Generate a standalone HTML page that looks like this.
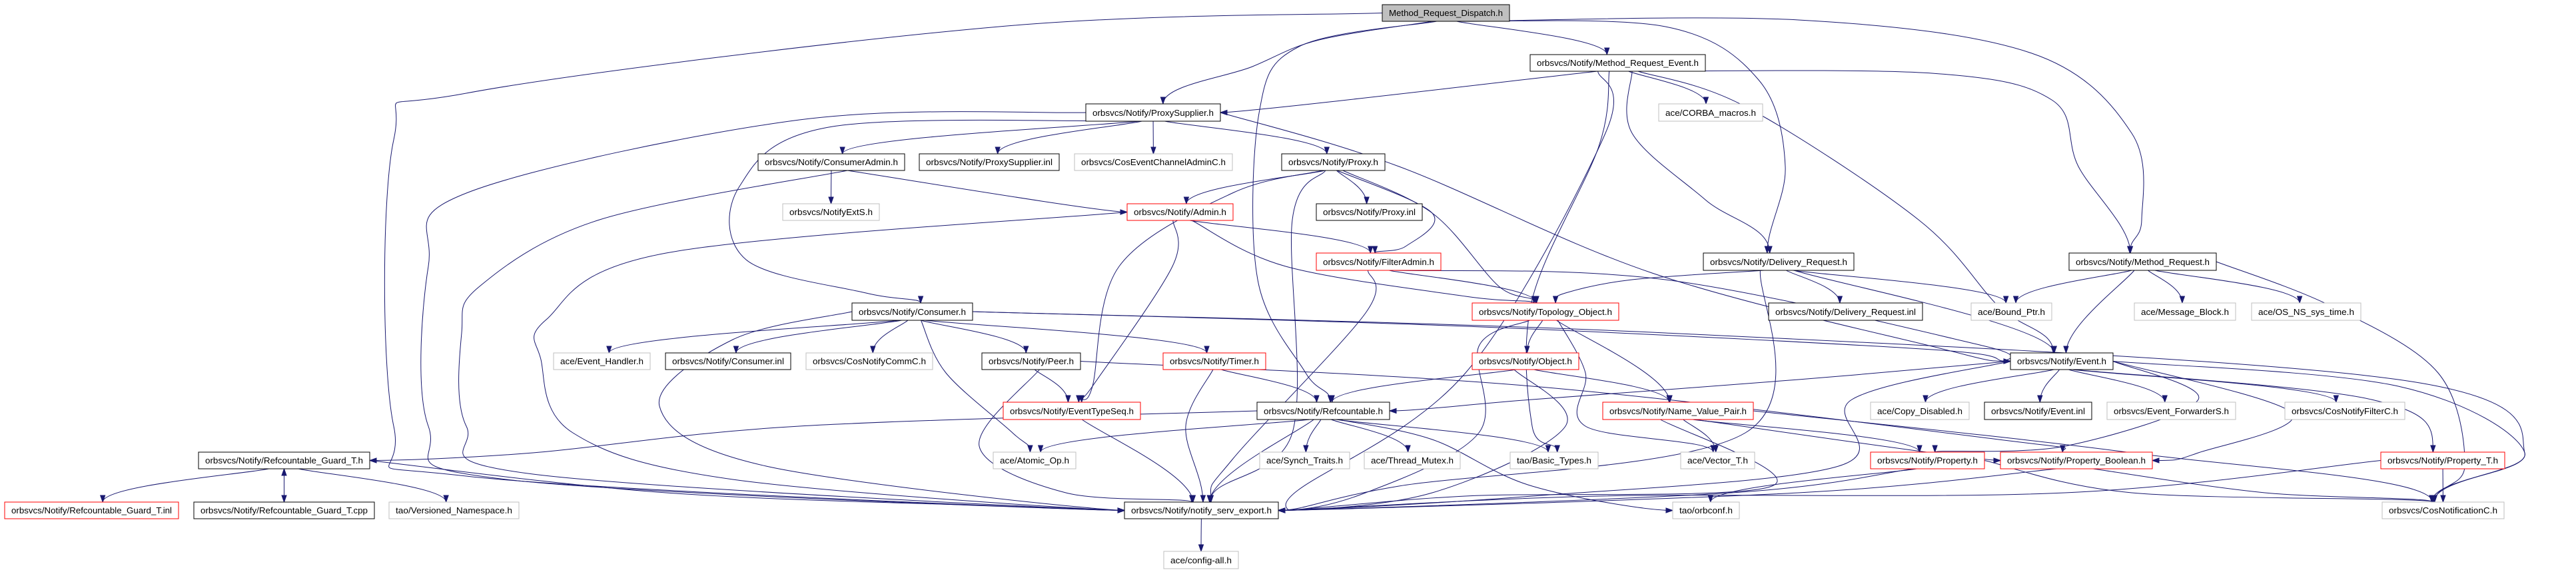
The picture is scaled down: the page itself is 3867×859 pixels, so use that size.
<!DOCTYPE html>
<html><head><meta charset="utf-8">
<style>
html,body{margin:0;padding:0;background:#fff;}
svg{display:block;}
text{font-family:"Liberation Sans",sans-serif;font-size:13px;fill:#000;}
</style></head><body>
<svg id="g" width="3867" height="859" viewBox="0 0 3867 859" xmlns="http://www.w3.org/2000/svg">
<g id="edges" fill="none" stroke="#191970" stroke-width="1"></g>
<g id="heads" fill="#191970" stroke="#191970"></g>
<g id="nodes">
<rect x="2075" y="7" width="191" height="25" fill="#bfbfbf" stroke="#000"/><text x="2170.5" y="24" text-anchor="middle">Method_Request_Dispatch.h</text>
<rect x="2297" y="82" width="263" height="25" fill="#fff" stroke="#000"/><text x="2428.5" y="99" text-anchor="middle">orbsvcs/Notify/Method_Request_Event.h</text>
<rect x="1630" y="156" width="202" height="26" fill="#fff" stroke="#000"/><text x="1731" y="174" text-anchor="middle">orbsvcs/Notify/ProxySupplier.h</text>
<rect x="2490" y="156" width="156" height="26" fill="#fff" stroke="#bfbfbf"/><text x="2568" y="174" text-anchor="middle">ace/CORBA_macros.h</text>
<rect x="1138" y="231" width="220" height="25" fill="#fff" stroke="#000"/><text x="1248" y="248" text-anchor="middle">orbsvcs/Notify/ConsumerAdmin.h</text>
<rect x="1380" y="231" width="210" height="25" fill="#fff" stroke="#000"/><text x="1485" y="248" text-anchor="middle">orbsvcs/Notify/ProxySupplier.inl</text>
<rect x="1613" y="231" width="237" height="25" fill="#fff" stroke="#bfbfbf"/><text x="1731.5" y="248" text-anchor="middle">orbsvcs/CosEventChannelAdminC.h</text>
<rect x="1924" y="231" width="155" height="25" fill="#fff" stroke="#000"/><text x="2001.5" y="248" text-anchor="middle">orbsvcs/Notify/Proxy.h</text>
<rect x="1175" y="306" width="145" height="25" fill="#fff" stroke="#bfbfbf"/><text x="1247.5" y="323" text-anchor="middle">orbsvcs/NotifyExtS.h</text>
<rect x="1692" y="306" width="159" height="25" fill="#fff" stroke="#f00"/><text x="1771.5" y="323" text-anchor="middle">orbsvcs/Notify/Admin.h</text>
<rect x="1976" y="306" width="159" height="25" fill="#fff" stroke="#000"/><text x="2055.5" y="323" text-anchor="middle">orbsvcs/Notify/Proxy.inl</text>
<rect x="1976" y="380" width="187" height="26" fill="#fff" stroke="#f00"/><text x="2069.5" y="398" text-anchor="middle">orbsvcs/Notify/FilterAdmin.h</text>
<rect x="2557" y="380" width="226" height="26" fill="#fff" stroke="#000"/><text x="2670" y="398" text-anchor="middle">orbsvcs/Notify/Delivery_Request.h</text>
<rect x="3106" y="380" width="221" height="26" fill="#fff" stroke="#000"/><text x="3216.5" y="398" text-anchor="middle">orbsvcs/Notify/Method_Request.h</text>
<rect x="1279" y="455" width="181" height="26" fill="#fff" stroke="#000"/><text x="1369.5" y="473" text-anchor="middle">orbsvcs/Notify/Consumer.h</text>
<rect x="2210" y="455" width="220" height="26" fill="#fff" stroke="#f00"/><text x="2320" y="473" text-anchor="middle">orbsvcs/Notify/Topology_Object.h</text>
<rect x="2655" y="455" width="231" height="26" fill="#fff" stroke="#000"/><text x="2770.5" y="473" text-anchor="middle">orbsvcs/Notify/Delivery_Request.inl</text>
<rect x="2959" y="455" width="121" height="26" fill="#fff" stroke="#bfbfbf"/><text x="3019.5" y="473" text-anchor="middle">ace/Bound_Ptr.h</text>
<rect x="3204" y="455" width="152" height="26" fill="#fff" stroke="#bfbfbf"/><text x="3280" y="473" text-anchor="middle">ace/Message_Block.h</text>
<rect x="3380" y="455" width="164" height="26" fill="#fff" stroke="#bfbfbf"/><text x="3462" y="473" text-anchor="middle">ace/OS_NS_sys_time.h</text>
<rect x="831" y="530" width="145" height="25" fill="#fff" stroke="#bfbfbf"/><text x="903.5" y="547" text-anchor="middle">ace/Event_Handler.h</text>
<rect x="999" y="530" width="188" height="25" fill="#fff" stroke="#000"/><text x="1093" y="547" text-anchor="middle">orbsvcs/Notify/Consumer.inl</text>
<rect x="1210" y="530" width="190" height="25" fill="#fff" stroke="#bfbfbf"/><text x="1305" y="547" text-anchor="middle">orbsvcs/CosNotifyCommC.h</text>
<rect x="1474" y="530" width="148" height="25" fill="#fff" stroke="#000"/><text x="1548" y="547" text-anchor="middle">orbsvcs/Notify/Peer.h</text>
<rect x="1746" y="530" width="154" height="25" fill="#fff" stroke="#f00"/><text x="1823" y="547" text-anchor="middle">orbsvcs/Notify/Timer.h</text>
<rect x="2210" y="530" width="160" height="25" fill="#fff" stroke="#f00"/><text x="2290" y="547" text-anchor="middle">orbsvcs/Notify/Object.h</text>
<rect x="3018" y="530" width="154" height="25" fill="#fff" stroke="#000"/><text x="3095" y="547" text-anchor="middle">orbsvcs/Notify/Event.h</text>
<rect x="1506" y="604" width="206" height="26" fill="#fff" stroke="#f00"/><text x="1609" y="622" text-anchor="middle">orbsvcs/Notify/EventTypeSeq.h</text>
<rect x="1887" y="604" width="199" height="26" fill="#fff" stroke="#000"/><text x="1986.5" y="622" text-anchor="middle">orbsvcs/Notify/Refcountable.h</text>
<rect x="2406" y="604" width="226" height="26" fill="#fff" stroke="#f00"/><text x="2519" y="622" text-anchor="middle">orbsvcs/Notify/Name_Value_Pair.h</text>
<rect x="2808" y="604" width="148" height="26" fill="#fff" stroke="#bfbfbf"/><text x="2882" y="622" text-anchor="middle">ace/Copy_Disabled.h</text>
<rect x="2979" y="604" width="161" height="26" fill="#fff" stroke="#000"/><text x="3059.5" y="622" text-anchor="middle">orbsvcs/Notify/Event.inl</text>
<rect x="3163" y="604" width="193" height="26" fill="#fff" stroke="#bfbfbf"/><text x="3259.5" y="622" text-anchor="middle">orbsvcs/Event_ForwarderS.h</text>
<rect x="3430" y="604" width="180" height="26" fill="#fff" stroke="#bfbfbf"/><text x="3520" y="622" text-anchor="middle">orbsvcs/CosNotifyFilterC.h</text>
<rect x="298" y="679" width="257" height="25" fill="#fff" stroke="#000"/><text x="426.5" y="696" text-anchor="middle">orbsvcs/Notify/Refcountable_Guard_T.h</text>
<rect x="1491" y="679" width="124" height="25" fill="#fff" stroke="#bfbfbf"/><text x="1553" y="696" text-anchor="middle">ace/Atomic_Op.h</text>
<rect x="1891" y="679" width="135" height="25" fill="#fff" stroke="#bfbfbf"/><text x="1958.5" y="696" text-anchor="middle">ace/Synch_Traits.h</text>
<rect x="2048" y="679" width="144" height="25" fill="#fff" stroke="#bfbfbf"/><text x="2120" y="696" text-anchor="middle">ace/Thread_Mutex.h</text>
<rect x="2267" y="679" width="132" height="25" fill="#fff" stroke="#bfbfbf"/><text x="2333" y="696" text-anchor="middle">tao/Basic_Types.h</text>
<rect x="2523" y="679" width="111" height="25" fill="#fff" stroke="#bfbfbf"/><text x="2578.5" y="696" text-anchor="middle">ace/Vector_T.h</text>
<rect x="2808" y="679" width="171" height="25" fill="#fff" stroke="#f00"/><text x="2893.5" y="696" text-anchor="middle">orbsvcs/Notify/Property.h</text>
<rect x="3003" y="679" width="228" height="25" fill="#fff" stroke="#f00"/><text x="3117" y="696" text-anchor="middle">orbsvcs/Notify/Property_Boolean.h</text>
<rect x="3574" y="679" width="186" height="25" fill="#fff" stroke="#f00"/><text x="3667" y="696" text-anchor="middle">orbsvcs/Notify/Property_T.h</text>
<rect x="7" y="754" width="261" height="25" fill="#fff" stroke="#f00"/><text x="137.5" y="771" text-anchor="middle">orbsvcs/Notify/Refcountable_Guard_T.inl</text>
<rect x="291" y="754" width="271" height="25" fill="#fff" stroke="#000"/><text x="426.5" y="771" text-anchor="middle">orbsvcs/Notify/Refcountable_Guard_T.cpp</text>
<rect x="584" y="754" width="195" height="25" fill="#fff" stroke="#bfbfbf"/><text x="681.5" y="771" text-anchor="middle">tao/Versioned_Namespace.h</text>
<rect x="1688" y="754" width="231" height="25" fill="#fff" stroke="#000"/><text x="1803.5" y="771" text-anchor="middle">orbsvcs/Notify/notify_serv_export.h</text>
<rect x="2511" y="754" width="100" height="25" fill="#fff" stroke="#bfbfbf"/><text x="2561" y="771" text-anchor="middle">tao/orbconf.h</text>
<rect x="3576" y="754" width="183" height="25" fill="#fff" stroke="#bfbfbf"/><text x="3667.5" y="771" text-anchor="middle">orbsvcs/CosNotificationC.h</text>
<rect x="1747" y="828" width="112" height="26" fill="#fff" stroke="#bfbfbf"/><text x="1803" y="846" text-anchor="middle">ace/config-all.h</text>
</g>
</svg>
<script>
var N={
D:[2075,7,2266,32],MRE:[2297,82,2560,107],PS:[1630,156,1832,182],CM:[2490,156,2646,182],
CA:[1138,231,1358,256],PSI:[1380,231,1590,256],CEC:[1613,231,1850,256],PX:[1924,231,2079,256],
EXT:[1175,306,1320,331],AD:[1692,306,1851,331],PXI:[1976,306,2135,331],FA:[1976,380,2163,406],
DR:[2557,380,2783,406],MR:[3106,380,3327,406],CO:[1279,455,1460,481],TO:[2210,455,2430,481],
DRI:[2655,455,2886,481],BP:[2959,455,3080,481],MB:[3204,455,3356,481],OS:[3380,455,3544,481],
EH:[831,530,976,555],COI:[999,530,1187,555],CC:[1210,530,1400,555],PE:[1474,530,1622,555],
TI:[1746,530,1900,555],OB:[2210,530,2370,555],EV:[3018,530,3172,555],ETS:[1506,604,1712,630],
RC:[1887,604,2086,630],NVP:[2406,604,2632,630],CD:[2808,604,2956,630],EVI:[2979,604,3140,630],
EF:[3163,604,3356,630],CF:[3430,604,3610,630],GT:[298,679,555,704],AO:[1491,679,1615,704],
ST:[1891,679,2026,704],TM:[2048,679,2192,704],BT:[2267,679,2399,704],VT:[2523,679,2634,704],
PR:[2808,679,2979,704],PB:[3003,679,3231,704],PT:[3574,679,3760,704],GTI:[7,754,268,779],
GTC:[291,754,562,779],VN:[584,754,779,779],NS:[1688,754,1919,779],OC:[2511,754,2611,779],
CN:[3576,754,3759,779],CFG:[1747,828,1859,854]};
var E=[
['D','PS',[[1980,60],[1880,100]]],['D','MRE'],['D','DR',[[2500,40],[2640,120],[2680,250]]],
['D','MR',[[2700,30],[3050,80],[3200,200],[3215,330]]],
['D','NS',[[1500,40],[700,140],[591,210],[591,640],[700,715]],'L','L'],
['D','RC',[[1950,70],[1890,170],[1888,420],[1960,560]]],
['MRE','PS'],['MRE','CM'],['MRE','EV',[[2620,160],[2880,330],[3000,460]]],
['MRE','MR',[[2900,110],[3080,150],[3120,250]]],['MRE','DR',[[2450,200],[2560,300]]],
['MRE','BT',[[2400,220],[2300,450],[2300,640]]],['MRE','NS',[[2410,200],[2200,560],[1950,735]],'R'],
['PS','CA'],['PS','PSI'],['PS','CEC'],['PS','PX'],['PS','EV',[[2100,250],[2480,410],[2900,520]],'L','R'],
['PS','NS',[[1200,180],[700,290],[643,400],[643,640],[760,720]],'L','L'],
['PS','CO',[[1250,190],[1110,280],[1120,390],[1300,440]]],
['CA','EXT'],['CA','AD'],['CA','NS',[[900,330],[720,430],[693,500],[700,640],[800,712]],'L'],
['PX','AD'],['PX','PXI'],['PX','FA',[[2150,320],[2110,370]]],['PX','TO',[[2150,320],[2250,430]]],
['PX','ETS',[[1850,290],[1680,400],[1640,580]]],['PX','NS',[[1940,330],[1940,650]]],
['AD','FA'],['AD','TO',[[1930,400],[2200,445]]],['AD','ETS',[[1760,400],[1640,580]]],
['AD','NS',[[1000,380],[820,480],[812,540],[860,650],[1100,720]],'L','L'],
['FA','TO'],['FA','EV',[[2500,420],[2980,520]],'L'],['FA','NS',[[2050,470],[1850,690]]],
['DR','TO',[[2450,420],[2350,440]]],['DR','DRI'],['DR','BP'],['DR','EV'],['DR','NS',[[2620,650],[2100,730]],'R'],
['MR','BP'],['MR','EV'],['MR','MB'],['MR','OS'],['MR','CN',[[3500,460],[3660,560],[3700,700]],'T','R'],
['CO','EH'],['CO','COI'],['CO','CC'],['CO','PE'],['CO','TI'],['CO','AO',[[1420,560],[1520,650]]],
['CO','EV',[[2200,490],[2900,525]],'L','R'],['CO','CN',[[2500,500],[3600,570],[3790,680]],'T','R'],
['CO','NS',[[1100,510],[990,610],[1150,700]],'L','L'],
['TO','OB'],['TO','NVP'],['TO','VT',[[2380,560],[2380,640]]],['TO','NS',[[2220,520],[2220,650],[2050,740]],'R'],
['PE','ETS'],['PE','NS',[[1470,670],[1600,740]]],['PE','PB',[[2300,580],[3000,660]],'T','R'],
['TI','RC'],['TI','NS',[[1780,640]]],
['OB','RC'],['OB','NVP'],['OB','NS',[[2350,640],[2150,740]],'R'],
['ETS','NS'],
['RC','GT',[[1200,640],[800,680]],'R','L'],['RC','AO'],['RC','ST'],['RC','TM'],['RC','BT'],
['RC','OC',[[2150,660],[2300,730]],'L'],['RC','NS'],
['NVP','VT'],['NVP','PR'],['NVP','PB'],['NVP','NS',[[2660,730],[2200,745]],'R'],['NVP','CN',[[3200,680]],'T','R'],
['EV','RC',[[2700,570],[2300,600]],'R','L'],['EV','CD'],['EV','EVI'],['EV','EF'],['EV','CF'],
['EV','PR',[[3300,600],[3100,670]],'T','R'],['EV','PB',[[3440,620],[3300,680]],'R','R'],
['EV','PT',[[3560,600]]],['EV','CN',[[3600,580],[3790,680]],'T','R'],['EV','NS',[[2780,600],[2760,700],[2300,745]],'R','L'],
['GT','GTI'],['GT','GTC'],['GT','VN'],['GT','NS',[[1000,740],[1500,760]],'L','R'],['GTC','GT'],
['PR','OC'],['PR','NS',[[2600,740]],'R'],['PR','CN',[[3200,740]],'T','R'],
['PB','CN',[[3400,740]],'T'],['PB','NS',[[2700,740]],'R'],
['PT','CN'],['PT','NS',[[3100,740],[2400,745]],'R','L'],
['NS','CFG']];
function cx(n){return (n[0]+n[2])/2;}
function cy(n){return (n[1]+n[3])/2;}
var eg=document.getElementById('edges'),hg=document.getElementById('heads'),ns='http://www.w3.org/2000/svg';
var rects=document.querySelectorAll('#nodes rect'),texts=document.querySelectorAll('#nodes text');
for(var k=0;k<texts.length;k++){var w=+rects[k].getAttribute('width');texts[k].setAttribute('textLength',w-20);texts[k].setAttribute('lengthAdjust','spacingAndGlyphs');}
E.forEach(function(e){
 var s=N[e[0]],t=N[e[1]],via=e[2]||[],em=e[3],sm=e[4];
 var p0,p1;
 if(sm==='L')p0=[s[0],cy(s)];else if(sm==='R')p0=[s[2],cy(s)];
 else if(t[3]<s[1])p0=[cx(s),s[1]];else p0=[cx(s)+(cx(t)-cx(s))*0.15*(s[2]-s[0])/Math.max(1,Math.abs(cx(t)-cx(s))+200),s[3]];
 if(!em){
  if(t[3]<s[1])em='B';
  else{var dy=t[1]-s[3],dx=cx(t)-cx(s);em=(dy<20||Math.abs(dx)>10*dy)?(dx>0?'L':'R'):'T';}
 }
 if(em==='T')p1=[cx(t)-(cx(t)-p0[0])*0.1*(t[2]-t[0])/Math.max(1,Math.abs(cx(t)-p0[0])+150),t[1]];
 else if(em==='B')p1=[cx(t),t[3]];
 else if(em==='L')p1=[t[0],cy(t)];else p1=[t[2],cy(t)];
 var pts=[p0].concat(via).concat([p1]);
 var d='M'+p0[0]+','+p0[1],ux=0,uy=1;
 for(var i=0;i<pts.length-1;i++){
  var a=pts[i-1]||pts[i],b=pts[i],c=pts[i+1],f=pts[i+2]||c;
  var c1=[b[0]+(c[0]-a[0])/6,b[1]+(c[1]-a[1])/6],c2=[c[0]-(f[0]-b[0])/6,c[1]-(f[1]-b[1])/6];
  if(i===pts.length-2){ if(em==='T')c2=[c[0],c[1]-Math.min(40,Math.abs(c[1]-b[1])/2)];
   else if(em==='B')c2=[c[0],c[1]+20]; else if(em==='L')c2=[c[0]-40,c[1]]; else c2=[c[0]+40,c[1]];
   ux=c[0]-c2[0];uy=c[1]-c2[1];}
  d+=' C'+c1[0].toFixed(1)+','+c1[1].toFixed(1)+' '+c2[0].toFixed(1)+','+c2[1].toFixed(1)+' '+c[0]+','+c[1];
 }
 var L=Math.sqrt(ux*ux+uy*uy)||1;ux/=L;uy/=L;
 var bx=p1[0]-ux*10,by=p1[1]-uy*10;
 var pe=document.createElementNS(ns,'path');pe.setAttribute('d',d);eg.appendChild(pe);
 var pg=document.createElementNS(ns,'polygon');
 pg.setAttribute('points',p1[0]+','+p1[1]+' '+(bx-uy*3.5)+','+(by+ux*3.5)+' '+(bx+uy*3.5)+','+(by-ux*3.5));
 hg.appendChild(pg);
});
</script>
</body></html>
